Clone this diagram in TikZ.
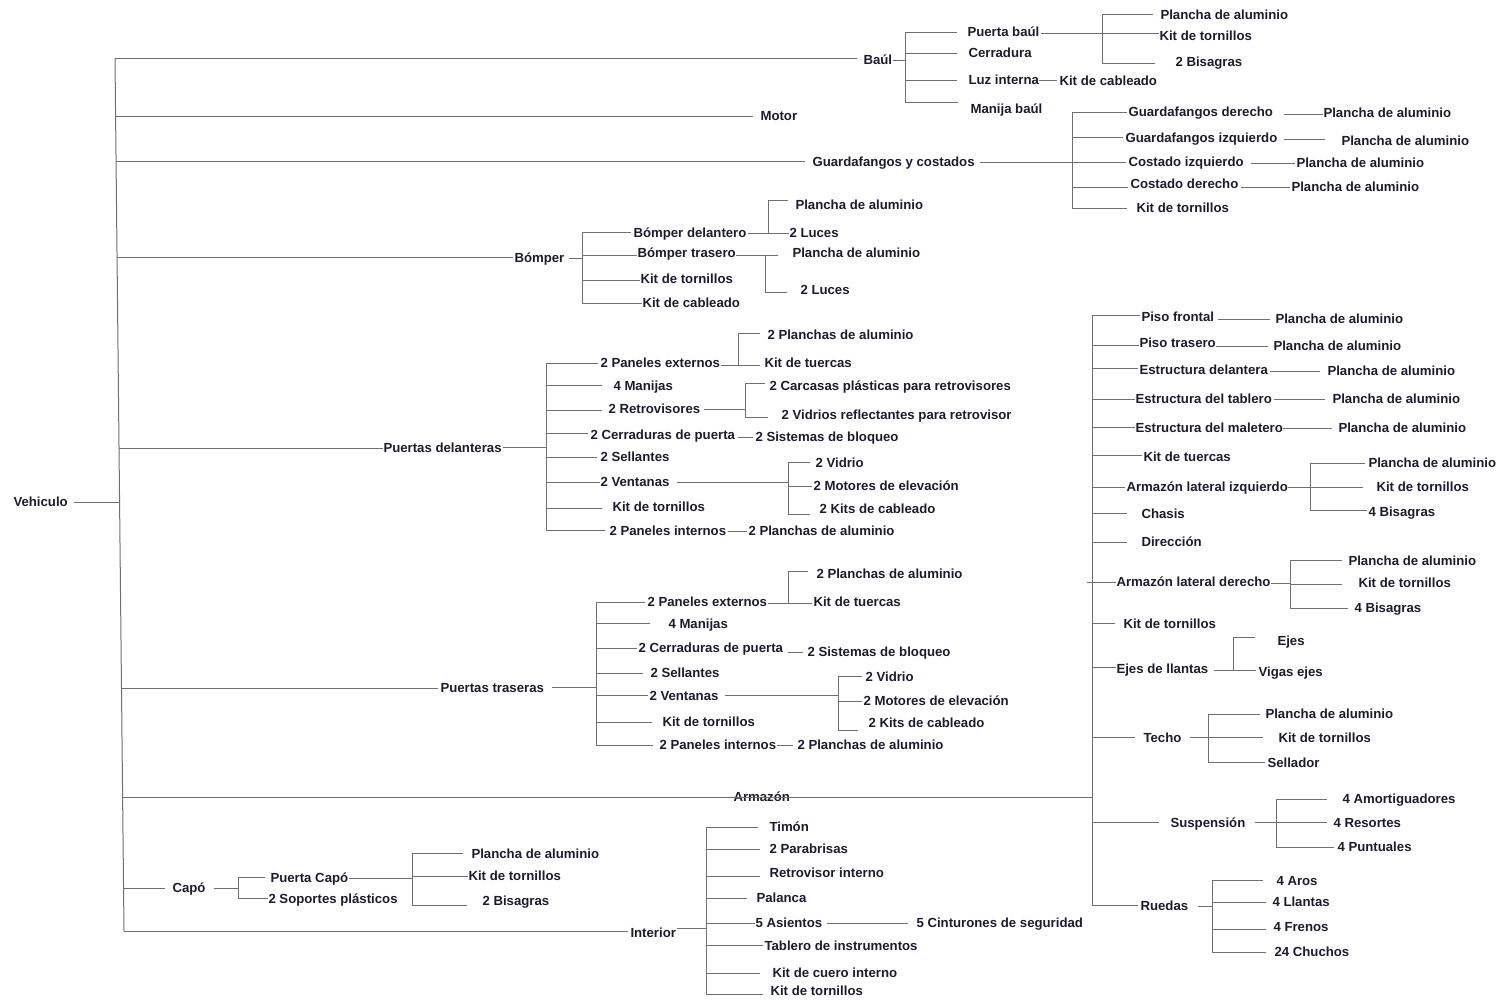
\documentclass[tikz,border=0pt]{standalone}
\usepackage{fontspec}
\setmainfont{Liberation Sans}
\definecolor{txt}{HTML}{1C1C30}
\definecolor{ln}{HTML}{707070}
% label node: name, x, y, text
\newcommand\nd[4]{\node[lbl] (#1) at (#2,#3) {#4};}
% vertical trunk: top name, bottom name, x, top y, bottom y
\newcommand\trunk[5]{\coordinate (#1) at (#3,#4); \coordinate (#2) at (#3,#5); \draw (#1) -- (#2);}
% branch from a trunk to a child: [rise]{trunk}{child}{gap}
\newcommand\kidl[4][0]{\draw ([yshift=#1pt]#2 |- #3.west) -- ([xshift=-#4pt,yshift=#1pt]#3.west);}
% stub from a parent to its trunk: [rise]{parent}{gap}{trunk}
\newcommand\upl[4][0]{\draw ([xshift=#3pt,yshift=#1pt]#2.east) -- ([yshift=#1pt]#4 |- #2.east);}
% single link parent -> child: [rise]{parent}{gap}{child}{gap}
\newcommand\pairl[5][0]{\draw ([xshift=#3pt,yshift=#1pt]#2.east) -- ([xshift=-#5pt,yshift=#1pt]#4.west |- #2.east);}
% branch from the main trunk: start name, x, y, node, gap
\newcommand\mainl[5]{\coordinate (#1) at (#2,#3); \draw (#1) -- ([xshift=-#5pt]#4.west |- #1);}
\begin{document}
\begin{tikzpicture}[x=1pt,y=-1pt,
  lbl/.style={anchor=west,inner sep=0pt,text height=9pt,text depth=0pt,
    font=\fontsize{13.2}{15}\selectfont\bfseries,text=txt},
  every path/.style={draw=ln,line width=1pt}]
\useasboundingbox[draw=none,fill=white] (0,0) rectangle (1502,999);

% ---------------- labels ----------------
\nd{veh}{13}{502}{Vehiculo}
\nd{baul}{863}{60}{Baúl}
\nd{motor}{760}{116}{Motor}
\nd{gyc}{812}{162}{Guardafangos y costados}
\nd{bomper}{514}{258}{Bómper}
\nd{pdel}{383}{448}{Puertas delanteras}
\nd{ptra}{440}{688}{Puertas traseras}
\nd{arm}{733}{797}{Armazón}
\nd{capo}{172}{888}{Capó}
\nd{inter}{630}{933}{Interior}

% Baúl
\nd{pb}{967}{32}{Puerta baúl}
\nd{cerr}{968}{53}{Cerradura}
\nd{luz}{968}{80}{Luz interna}
\nd{man}{970}{109}{Manija baúl}
\nd{pbp}{1160}{15}{Plancha de aluminio}
\nd{pbk}{1159}{36}{Kit de tornillos}
\nd{pbb}{1175}{62}{2 Bisagras}
\nd{kc}{1059}{81}{Kit de cableado}

% Guardafangos y costados
\nd{gd}{1128}{112}{Guardafangos derecho}
\nd{gi}{1125}{138}{Guardafangos izquierdo}
\nd{ci}{1128}{162}{Costado izquierdo}
\nd{cd}{1130}{184}{Costado derecho}
\nd{gk}{1136}{208}{Kit de tornillos}
\nd{gdp}{1323}{113}{Plancha de aluminio}
\nd{gip}{1341}{141}{Plancha de aluminio}
\nd{cip}{1296}{163}{Plancha de aluminio}
\nd{cdp}{1291}{187}{Plancha de aluminio}

% Bómper
\nd{bd}{633}{233}{Bómper delantero}
\nd{btr}{637}{253}{Bómper trasero}
\nd{bk}{640}{279}{Kit de tornillos}
\nd{bc}{642}{303}{Kit de cableado}
\nd{bdp}{795}{205}{Plancha de aluminio}
\nd{bdl}{789}{233}{2 Luces}
\nd{btp}{792}{253}{Plancha de aluminio}
\nd{btl}{800}{290}{2 Luces}

% Puertas delanteras
\nd{pd1}{600}{363}{2 Paneles externos}
\nd{pd2}{613}{386}{4 Manijas}
\nd{pd3}{608}{409}{2 Retrovisores}
\nd{pd4}{590}{435}{2 Cerraduras de puerta}
\nd{pd5}{600}{457}{2 Sellantes}
\nd{pd6}{600}{482}{2 Ventanas}
\nd{pd7}{612}{507}{Kit de tornillos}
\nd{pd8}{609}{531}{2 Paneles internos}
\nd{pd1a}{767}{335}{2 Planchas de aluminio}
\nd{pd1b}{764}{363}{Kit de tuercas}
\nd{pd3a}{769}{386}{2 Carcasas plásticas para retrovisores}
\nd{pd3b}{781}{415}{2 Vidrios reflectantes para retrovisor}
\nd{pd4a}{755}{437}{2 Sistemas de bloqueo}
\nd{pd6a}{815}{463}{2 Vidrio}
\nd{pd6b}{813}{486}{2 Motores de elevación}
\nd{pd6c}{819}{509}{2 Kits de cableado}
\nd{pd8a}{748}{531}{2 Planchas de aluminio}

% Puertas traseras
\nd{pt1}{647}{602}{2 Paneles externos}
\nd{pt2}{668}{624}{4 Manijas}
\nd{pt3}{638}{648}{2 Cerraduras de puerta}
\nd{pt4}{650}{673}{2 Sellantes}
\nd{pt5}{649}{696}{2 Ventanas}
\nd{pt6}{662}{722}{Kit de tornillos}
\nd{pt7}{659}{745}{2 Paneles internos}
\nd{pt1a}{816}{574}{2 Planchas de aluminio}
\nd{pt1b}{813}{602}{Kit de tuercas}
\nd{pt3a}{807}{652}{2 Sistemas de bloqueo}
\nd{pt5a}{865}{677}{2 Vidrio}
\nd{pt5b}{863}{701}{2 Motores de elevación}
\nd{pt5c}{868}{723}{2 Kits de cableado}
\nd{pt7a}{797}{745}{2 Planchas de aluminio}

% Armazón
\nd{a1}{1141}{317}{Piso frontal}
\nd{a2}{1139}{343}{Piso trasero}
\nd{a3}{1139}{370}{Estructura delantera}
\nd{a4}{1135}{399}{Estructura del tablero}
\nd{a5}{1135}{428}{Estructura del maletero}
\nd{a6}{1143}{457}{Kit de tuercas}
\nd{a7}{1126}{487}{Armazón lateral izquierdo}
\nd{a8}{1141}{514}{Chasis}
\nd{a9}{1141}{542}{Dirección}
\nd{a10}{1116}{582}{Armazón lateral derecho}
\nd{a11}{1123}{624}{Kit de tornillos}
\nd{a12}{1116}{669}{Ejes de llantas}
\nd{a13}{1143}{738}{Techo}
\nd{a14}{1170}{823}{Suspensión}
\nd{a15}{1140}{906}{Ruedas}
\nd{a1p}{1275}{319}{Plancha de aluminio}
\nd{a2p}{1273}{346}{Plancha de aluminio}
\nd{a3p}{1327}{371}{Plancha de aluminio}
\nd{a4p}{1332}{399}{Plancha de aluminio}
\nd{a5p}{1338}{428}{Plancha de aluminio}
\nd{a7a}{1368}{463}{Plancha de aluminio}
\nd{a7b}{1376}{487}{Kit de tornillos}
\nd{a7c}{1368}{512}{4 Bisagras}
\nd{a10a}{1348}{561}{Plancha de aluminio}
\nd{a10b}{1358}{583}{Kit de tornillos}
\nd{a10c}{1354}{608}{4 Bisagras}
\nd{a12a}{1277}{641}{Ejes}
\nd{a12b}{1258}{672}{Vigas ejes}
\nd{a13a}{1265}{714}{Plancha de aluminio}
\nd{a13b}{1278}{738}{Kit de tornillos}
\nd{a13c}{1267}{763}{Sellador}
\nd{a14a}{1342}{799}{4 Amortiguadores}
\nd{a14b}{1333}{823}{4 Resortes}
\nd{a14c}{1337}{847}{4 Puntuales}
\nd{a15a}{1276}{881}{4 Aros}
\nd{a15b}{1272}{902}{4 Llantas}
\nd{a15c}{1273}{927}{4 Frenos}
\nd{a15d}{1274}{952}{24 Chuchos}

% Capó
\nd{c1}{270}{878}{Puerta Capó}
\nd{c2}{268}{899}{2 Soportes plásticos}
\nd{c1a}{471}{854}{Plancha de aluminio}
\nd{c1b}{468}{876}{Kit de tornillos}
\nd{c1c}{482}{901}{2 Bisagras}

% Interior
\nd{i1}{769}{827}{Timón}
\nd{i2}{769}{849}{2 Parabrisas}
\nd{i3}{769}{873}{Retrovisor interno}
\nd{i4}{756}{898}{Palanca}
\nd{i5}{755}{923}{5 Asientos}
\nd{i6}{764}{946}{Tablero de instrumentos}
\nd{i7}{772}{973}{Kit de cuero interno}
\nd{i8}{770}{991}{Kit de tornillos}
\nd{i5a}{916}{923}{5 Cinturones de seguridad}

% ---------------- connectors ----------------
% main trunk
\coordinate (vT) at (115,58);
\coordinate (vB) at (124,931);
\draw (vT) -- (vB);
\coordinate (m-veh) at (119.6,502);
\draw ([xshift=6pt]veh.east) -- (m-veh);
\mainl{m-baul}{115}{58.5}{baul}{6}
\mainl{m-motor}{115.6}{116}{motor}{7}
\mainl{m-gyc}{116.1}{161}{gyc}{7}
\mainl{m-bomper}{117}{257}{bomper}{1}
\mainl{m-pdel}{119}{448}{pdel}{0}
\mainl{m-ptra}{121.5}{688}{ptra}{2}
\mainl{m-capo}{123.6}{888}{capo}{7}
\mainl{m-inter}{124}{931}{inter}{2}

% Baúl
\trunk{bt1}{bt2}{905}{32}{102}
\upl{baul}{0}{bt1}
\kidl{bt1}{pb}{10}
\kidl{bt1}{cerr}{11}
\kidl{bt1}{luz}{11}
\kidl[7]{bt1}{man}{12}
\trunk{pbt1}{pbt2}{1102}{14}{63}
\upl[-1]{pb}{1}{pbt1}
\kidl[1]{pbt1}{pbp}{7}
\kidl[3]{pbt1}{pbk}{0}
\kidl[-1]{pbt1}{pbb}{20}
\pairl{luz}{0}{kc}{2}

% Guardafangos y costados
\trunk{gt1}{gt2}{1072}{112}{208}
\upl{gyc}{5}{gt1}
\kidl{gt1}{gd}{1}
\kidl[1]{gt1}{gi}{2}
\kidl{gt1}{ci}{2}
\kidl[-3]{gt1}{cd}{2}
\kidl{gt1}{gk}{9}
\pairl[-2]{gd}{10}{gdp}{0}
\pairl[-1]{gi}{6}{gip}{16}
\pairl[-1]{ci}{7}{cip}{1}
\pairl[-3]{cd}{2}{cdp}{1}

% Bómper
\trunk{bmt1}{bmt2}{582}{232}{303}
\upl{bomper}{4}{bmt1}
\kidl[1]{bmt1}{bd}{2}
\kidl[-2]{bmt1}{btr}{0}
\kidl[-1]{bmt1}{bk}{0}
\kidl{bmt1}{bc}{0}
\trunk{bdt1}{bdt2}{768}{200}{233}
\upl{bd}{1}{bdt1}
\kidl[5]{bdt1}{bdp}{7}
\kidl{bdt1}{bdl}{0}
\trunk{btt1}{btt2}{765}{255}{292}
\upl[-2]{btr}{0}{btt1}
\kidl[-2]{btt1}{btp}{14}
\kidl[-2]{btt1}{btl}{13}

% Puertas delanteras
\trunk{pdt1}{pdt2}{546}{363}{530}
\upl[1]{pdel}{1}{pdt1}
\kidl{pdt1}{pd1}{2}
\kidl[1]{pdt1}{pd2}{11}
\kidl[-1]{pdt1}{pd3}{6}
\kidl[2]{pdt1}{pd4}{2}
\kidl{pdt1}{pd5}{3}
\kidl{pdt1}{pd6}{0}
\kidl[-1]{pdt1}{pd7}{10}
\kidl[1]{pdt1}{pd8}{4}
\trunk{pd1t1}{pd1t2}{738}{333}{365}
\upl[-2]{pd1}{0}{pd1t1}
\kidl[2]{pd1t1}{pd1a}{7}
\kidl[-2]{pd1t1}{pd1b}{4}
\trunk{pd3t1}{pd3t2}{745}{383}{417}
\upl{pd3}{3}{pd3t1}
\kidl[3]{pd3t1}{pd3a}{4}
\kidl[-2]{pd3t1}{pd3b}{13}
\pairl[-2]{pd4}{2}{pd4a}{2}
\trunk{pd6t1}{pd6t2}{788}{462}{514}
\upl{pd6}{7}{pd6t1}
\kidl[1]{pd6t1}{pd6a}{5}
\kidl{pd6t1}{pd6b}{1}
\kidl[-5]{pd6t1}{pd6c}{9}
\pairl{pd8}{1}{pd8a}{1}

% Puertas traseras
\trunk{ptt1}{ptt2}{596}{602}{745}
\upl[1]{ptra}{8}{ptt1}
\kidl{ptt1}{pt1}{2}
\kidl[1]{ptt1}{pt2}{18}
\kidl{ptt1}{pt3}{1}
\kidl{ptt1}{pt4}{7}
\kidl[1]{ptt1}{pt5}{1}
\kidl{ptt1}{pt6}{10}
\kidl{ptt1}{pt7}{6}
\trunk{pt1t1}{pt1t2}{788}{571}{603}
\upl[-1]{pt1}{0}{pt1t1}
\kidl[3]{pt1t1}{pt1a}{8}
\kidl[-1]{pt1t1}{pt1b}{1}
\pairl[-4]{pt3}{4}{pt3a}{4}
\trunk{pt5t1}{pt5t2}{838}{676}{730}
\upl[1]{pt5}{6}{pt5t1}
\kidl[1]{pt5t1}{pt5a}{3}
\kidl{pt5t1}{pt5b}{1}
\kidl[-7]{pt5t1}{pt5c}{10}
\pairl{pt7}{0}{pt7a}{4}

% Armazón
\trunk{aT}{aB}{1092}{315}{905}
\coordinate (m-arm) at (122.6,797);
\draw (m-arm) -- (aT |- m-arm);
\kidl[2]{aT}{a1}{1}
\kidl[-2]{aT}{a2}{0}
\kidl[2]{aT}{a3}{1}
\kidl{aT}{a4}{0}
\kidl[1]{aT}{a5}{0}
\kidl[2]{aT}{a6}{1}
\kidl{aT}{a7}{1}
\kidl[1]{aT}{a8}{14}
\kidl{aT}{a9}{14}
\draw ([xshift=-5pt]aT |- a10.west) -- (a10.west);
\kidl[1]{aT}{a11}{8}
\kidl[2]{aT}{a12}{0}
\kidl[1]{aT}{a13}{8}
\kidl[1]{aT}{a14}{11}
\kidl[1]{aT}{a15}{2}
\pairl[-2]{a1}{3}{a1p}{5}
\pairl[-3]{a2}{0}{a2p}{5}
\pairl[-1]{a3}{2}{a3p}{7}
\pairl{a4}{2}{a4p}{7}
\pairl{a5}{0}{a5p}{6}
\trunk{a7t1}{a7t2}{1310}{463}{510}
\upl{a7}{0}{a7t1}
\kidl{a7t1}{a7a}{3}
\kidl{a7t1}{a7b}{13}
\kidl[2]{a7t1}{a7c}{1}
\trunk{a10t1}{a10t2}{1290}{560}{608}
\upl[-1]{a10}{0}{a10t1}
\kidl[1]{a10t1}{a10a}{6}
\kidl[-1]{a10t1}{a10b}{16}
\kidl{a10t1}{a10c}{6}
\trunk{a12t1}{a12t2}{1233}{637}{670}
\upl[-1]{a12}{5}{a12t1}
\kidl[4]{a12t1}{a12a}{22}
\kidl[2]{a12t1}{a12b}{2}
\trunk{a13t1}{a13t2}{1208}{714}{762}
\upl[1]{a13}{8}{a13t1}
\kidl{a13t1}{a13a}{5}
\kidl[1]{a13t1}{a13b}{15}
\kidl[1]{a13t1}{a13c}{2}
\trunk{a14t1}{a14t2}{1276}{799}{847}
\upl[1]{a14}{9}{a14t1}
\kidl{a14t1}{a14a}{15}
\kidl[1]{a14t1}{a14b}{6}
\kidl{a14t1}{a14c}{3}
\trunk{a15t1}{a15t2}{1212}{880}{952}
\upl{a15}{9}{a15t1}
\kidl[1]{a15t1}{a15a}{13}
\kidl{a15t1}{a15b}{6}
\kidl[-2]{a15t1}{a15c}{7}
\kidl{a15t1}{a15d}{8}

% Capó
\trunk{ct1}{ct2}{238}{877}{898}
\upl{capo}{8}{ct1}
\kidl[1]{ct1}{c1}{5}
\kidl[1]{ct1}{c2}{0}
\trunk{c1t1}{c1t2}{412}{853}{905}
\upl{c1}{0}{c1t1}
\kidl[1]{c1t1}{c1a}{8}
\kidl{c1t1}{c1b}{0}
\kidl[-4]{c1t1}{c1c}{15}

% Interior
\trunk{it1}{it2}{706}{827}{994}
\upl[5]{inter}{1}{it1}
\kidl{it1}{i1}{11}
\kidl{it1}{i2}{9}
\kidl[-3]{it1}{i3}{9}
\kidl{it1}{i4}{9}
\kidl{it1}{i5}{0}
\kidl[1]{it1}{i6}{1}
\kidl{it1}{i7}{12}
\kidl[-3]{it1}{i8}{7}
\pairl{i5}{4}{i5a}{8}
\end{tikzpicture}
\end{document}
